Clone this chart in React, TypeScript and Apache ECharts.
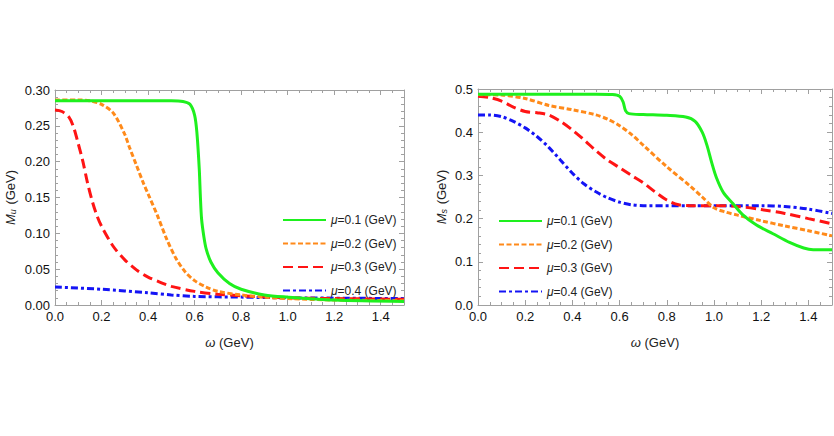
import React, { useEffect, useRef } from "react";
import * as echarts from "echarts";

// ---- data ----
const seriesNames = ["μ=0.1 (GeV)", "μ=0.2 (GeV)", "μ=0.3 (GeV)", "μ=0.4 (GeV)"];

// Left panel: M_u vs ω
const uGreenX = [0, 0.3, 0.5, 0.55, 0.58, 0.6, 0.61, 0.62, 0.625, 0.63, 0.64, 0.65, 0.67, 0.7, 0.75, 0.8, 0.9, 1.0, 1.2, 1.5];
const uGreenY = [0.285, 0.285, 0.285, 0.284, 0.28, 0.265, 0.24, 0.19, 0.15, 0.12, 0.095, 0.078, 0.06, 0.045, 0.03, 0.022, 0.014, 0.011, 0.007, 0.005];
const uOrangeX = [0, 0.1, 0.15, 0.2, 0.25, 0.3, 0.32, 0.35, 0.38, 0.4, 0.44, 0.48, 0.52, 0.56, 0.6, 0.65, 0.7, 0.8, 0.9, 1.0, 1.2, 1.5];
const uOrangeY = [0.286, 0.286, 0.285, 0.28, 0.268, 0.238, 0.22, 0.195, 0.17, 0.155, 0.125, 0.092, 0.065, 0.046, 0.034, 0.025, 0.019, 0.014, 0.011, 0.009, 0.007, 0.006];
const uRedX = [0, 0.03, 0.06, 0.08, 0.1, 0.12, 0.14, 0.16, 0.18, 0.2, 0.25, 0.3, 0.35, 0.4, 0.45, 0.5, 0.6, 0.7, 0.8, 1.0, 1.2, 1.5];
const uRedY = [0.272, 0.27, 0.262, 0.248, 0.225, 0.2, 0.17, 0.145, 0.125, 0.11, 0.082, 0.063, 0.049, 0.039, 0.032, 0.026, 0.019, 0.015, 0.013, 0.01, 0.009, 0.008];
const uBlueX = [0, 0.2, 0.4, 0.5, 0.6, 0.8, 1.0, 1.5];
const uBlueY = [0.025, 0.022, 0.017, 0.014, 0.012, 0.011, 0.01, 0.009];

// Right panel: M_s vs ω
const sGreenX = [0, 0.5, 0.57, 0.6, 0.615, 0.625, 0.64, 0.7, 0.8, 0.88, 0.92, 0.95, 0.97, 0.99, 1.01, 1.04, 1.08, 1.12, 1.18, 1.25, 1.32, 1.38, 1.42, 1.5];
const sGreenY = [0.488, 0.488, 0.487, 0.483, 0.47, 0.45, 0.443, 0.441, 0.439, 0.435, 0.425, 0.4, 0.37, 0.33, 0.295, 0.26, 0.235, 0.21, 0.185, 0.165, 0.145, 0.132, 0.128, 0.128];
const sOrangeX = [0, 0.1, 0.2, 0.3, 0.4, 0.5, 0.55, 0.6, 0.65, 0.7, 0.8, 0.9, 0.95, 1.0, 1.05, 1.1, 1.2, 1.3, 1.4, 1.5];
const sOrangeY = [0.487, 0.486, 0.478, 0.462, 0.452, 0.44, 0.43, 0.415, 0.395, 0.37, 0.32, 0.275, 0.25, 0.225, 0.215, 0.208, 0.195, 0.183, 0.172, 0.16];
const sRedX = [0, 0.05, 0.1, 0.15, 0.2, 0.25, 0.3, 0.35, 0.4, 0.45, 0.5, 0.55, 0.6, 0.65, 0.7, 0.75, 0.8, 0.85, 0.9, 1.0, 1.1, 1.2, 1.3, 1.4, 1.5];
const sRedY = [0.483, 0.48, 0.472, 0.458, 0.448, 0.445, 0.44, 0.425, 0.405, 0.382, 0.357, 0.335, 0.318, 0.3, 0.283, 0.262, 0.243, 0.232, 0.23, 0.23, 0.228, 0.221, 0.212, 0.2, 0.188];
const sBlueX = [0, 0.05, 0.1, 0.15, 0.2, 0.25, 0.3, 0.35, 0.4, 0.45, 0.5, 0.55, 0.6, 0.65, 0.7, 1.0, 1.2, 1.3, 1.4, 1.5];
const sBlueY = [0.44, 0.44, 0.436, 0.425, 0.41, 0.39, 0.365, 0.335, 0.305, 0.28, 0.262, 0.248, 0.238, 0.232, 0.23, 0.23, 0.23, 0.228, 0.222, 0.212];

const xTicks = { min: 0, max: 1.5, interval: 0.2 };
const yTicksU = { min: 0, max: 0.3, interval: 0.05 };
const yTicksS = { min: 0, max: 0.5, interval: 0.1 };

// ---- styles ----
const colors = ["#1ef01e", "#ff8a1a", "#ff1414", "#1414f5"];
const dashes: any[] = ["solid", [5, 2.5], [10, 5], [7, 3, 3, 3]];
const FONT = "Liberation Sans, Arial, sans-serif";
const FRAME = "#a0a0a0";

const zip = (xs: number[], ys: number[]) => xs.map((x, i) => [x, ys[i]]);

export default function App() {
  const ref = useRef<HTMLDivElement>(null);
  useEffect(() => {
    if (!ref.current) return;
    const chart = echarts.init(ref.current, undefined, { renderer: "svg" });

    const grids = [
      { left: 55, top: 90, width: 349, height: 215 },
      { left: 478, top: 89, width: 354, height: 216 },
    ];

    const labelBase = {
      color: "#111",
      fontSize: 13,
      fontFamily: FONT,
      margin: 5,
    };

    const baseAxis = (gridIndex: number, pos: string, minorSplit: number) => ({
      gridIndex,
      position: pos,
      type: "value",
      axisLine: { show: true, onZero: false, lineStyle: { color: FRAME, width: 1 } },
      axisTick: { show: true, inside: true, length: 5, lineStyle: { color: FRAME } },
      minorTick: { show: true, splitNumber: minorSplit, length: 3, lineStyle: { color: FRAME } },
      splitLine: { show: false },
      axisLabel: { show: false },
    });

    const xAxes: any[] = [];
    const yAxes: any[] = [];
    [0, 1].forEach((g) => {
      xAxes.push({
        ...baseAxis(g, "bottom", 4),
        ...xTicks,
        axisLabel: {
          ...labelBase,
          show: true,
          showMaxLabel: false,
          formatter: (v: number) => v.toFixed(1),
        },
        name: "{i|ω} (GeV)",
        nameLocation: "middle",
        nameGap: 31,
        nameTextStyle: {
          color: "#222",
          fontSize: 13,
          fontFamily: FONT,
          rich: { i: { fontStyle: "italic", fontSize: 13, fontFamily: FONT, color: "#222" } },
        },
      });
      xAxes.push({ ...baseAxis(g, "top", 4), ...xTicks });
      const yT = g === 0 ? yTicksU : yTicksS;
      const dec = g === 0 ? 2 : 1;
      const sub = g === 0 ? "u" : "s";
      yAxes.push({
        ...baseAxis(g, "left", 5),
        ...yT,
        axisLabel: {
          ...labelBase,
          show: true,
          formatter: (v: number) => v.toFixed(dec),
        },
        name: `{i|M}{s|${sub}} (GeV)`,
        nameLocation: "middle",
        nameGap: g === 0 ? 38 : 30,
        nameRotate: 90,
        nameTextStyle: {
          color: "#222",
          fontSize: 13,
          fontFamily: FONT,
          rich: {
            i: { fontStyle: "italic", fontSize: 13, fontFamily: FONT, color: "#222" },
            s: { fontStyle: "italic", fontSize: 9, fontFamily: FONT, color: "#222", verticalAlign: "bottom", padding: [5, 1, 0, 0] },
          },
        },
      });
      yAxes.push({ ...baseAxis(g, "right", 5), ...yT });
    });

    const panelData = [
      [zip(uGreenX, uGreenY), zip(uOrangeX, uOrangeY), zip(uRedX, uRedY), zip(uBlueX, uBlueY)],
      [zip(sGreenX, sGreenY), zip(sOrangeX, sOrangeY), zip(sRedX, sRedY), zip(sBlueX, sBlueY)],
    ];

    const series: any[] = [];
    [0, 1].forEach((g) => {
      panelData[g].forEach((d, i) => {
        series.push({
          type: "line",
          name: seriesNames[i],
          xAxisIndex: g * 2,
          yAxisIndex: g * 2,
          data: d,
          showSymbol: false,
          symbol: "circle",
          symbolSize: 0,
          smooth: 0.3,
          clip: true,
          z: 10 - i,
          color: colors[i],
          lineStyle: { color: colors[i], width: 3, type: dashes[i], cap: "butt" },
        });
      });
    });

    const legendCommon = {
      orient: "vertical",
      itemWidth: 43,
      itemHeight: 12,
      itemGap: 11.5,
      data: seriesNames,
      selectedMode: false,
      itemStyle: { opacity: 0 },
      formatter: (n: string) => n.replace("μ", "{i|μ}"),
      textStyle: {
        fontSize: 12,
        fontFamily: FONT,
        color: "#222",
        rich: { i: { fontStyle: "italic", fontSize: 12, fontFamily: FONT, color: "#222" } },
      },
    };

    chart.setOption({
      animation: false,
      backgroundColor: "#ffffff",
      grid: grids,
      xAxis: xAxes,
      yAxis: yAxes,
      legend: [
        { ...legendCommon, left: 277, top: 209 },
        { ...legendCommon, left: 493, top: 210 },
      ],
      series,
    });
    return () => chart.dispose();
  }, []);
  return <div ref={ref} style={{ width: 834, height: 436, position: "absolute", left: 0, top: 0 }} />;
}
